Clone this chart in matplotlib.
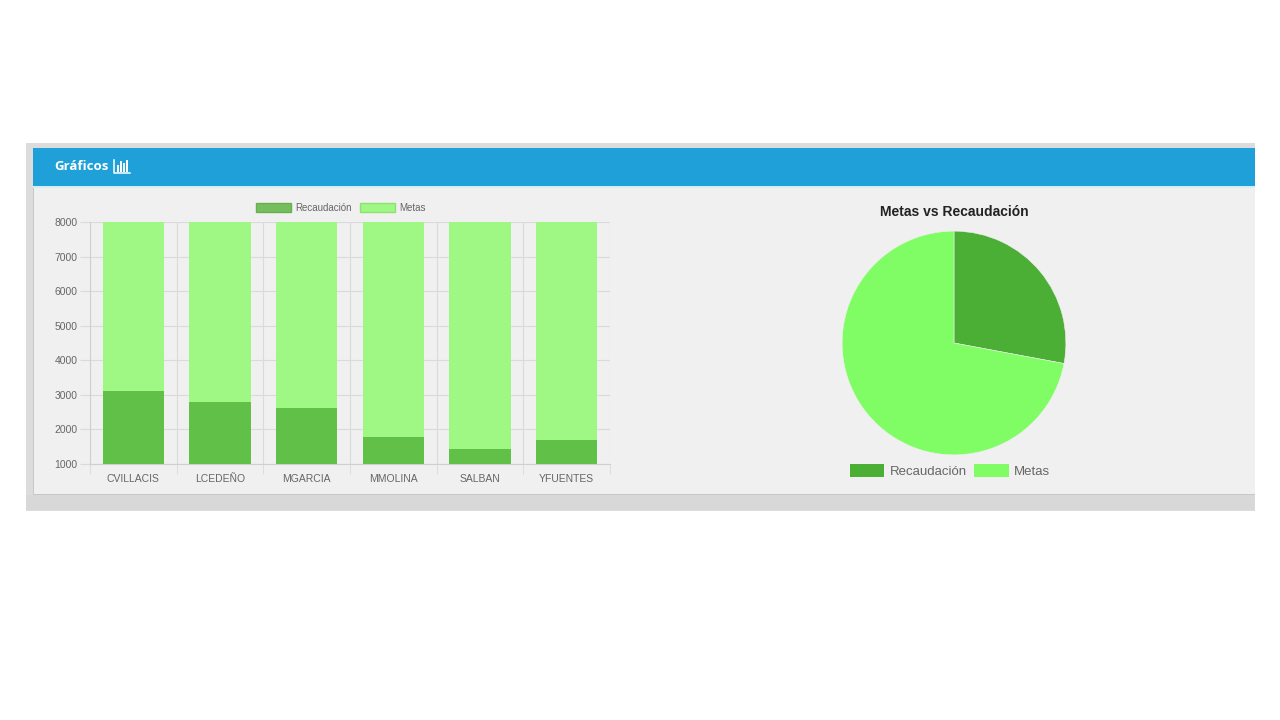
import matplotlib
matplotlib.use("Agg")
import matplotlib.pyplot as plt
from matplotlib.patches import Rectangle, Patch
from matplotlib.lines import Line2D
import numpy as np

# datos
vendedores = ["CVILLACIS", "LCEDEÑO", "MGARCIA", "MMOLINA", "SALBAN", "YFUENTES"]
recaudacion = [3100, 2780, 2620, 1790, 1420, 1700]
metas = [4900, 5220, 5380, 6210, 6580, 6300]  # tramo apilado sobre la recaudacion
y_ticks = [1000, 2000, 3000, 4000, 5000, 6000, 7000, 8000]

W, H = 1280, 720
plt.rcParams['font.family'] = ['Liberation Sans', 'DejaVu Sans']

fig = plt.figure(figsize=(12.8, 7.2), dpi=100)
fig.patch.set_facecolor("white")


def box(x, y, w, h):  # pixeles (desde arriba) -> fraccion de figura
    return [x / W, 1 - (y + h) / H, w / W, h / H]


def rect(x, y, w, h, color):
    b = box(x, y, w, h)
    fig.patches.append(Rectangle((b[0], b[1]), b[2], b[3], transform=fig.transFigure,
                                 facecolor=color, edgecolor="none", zorder=-10))


# marco del panel
rect(26, 143, 1229, 368, "#dcdcdc")
rect(33, 148, 1222, 347, "#c8c8c8")
rect(34, 149, 1221, 345, "#f0f0f0")
rect(33, 148, 1222, 38, "#1fa0d8")
rect(33, 186, 1222, 2, "#d4eef8")
rect(26, 495, 1229, 15, "#d8d8d8")

fig.text(54 / W, 1 - 167 / H, "Gráficos", color="white", fontsize=9.5, fontweight="bold",
         family=["Open Sans", "DejaVu Sans"], va="center")
# icono de barras
ic = "white"
fig.lines.append(Line2D([114 / W, 114 / W, 130 / W], [1 - 160 / H, 1 - 173 / H, 1 - 173 / H],
                        transform=fig.transFigure, color=ic, lw=1.1))
for xp, top in [(118, 166), (121, 162), (124, 164), (127, 161)]:
    fig.lines.append(Line2D([xp / W, xp / W], [1 - 171 / H, 1 - top / H],
                            transform=fig.transFigure, color=ic, lw=1.4))

# grafico de barras apiladas
ax = fig.add_axes(box(90, 222, 520, 242))
ax.set_facecolor("none")
x = np.arange(len(vendedores))
ax.bar(x, recaudacion, width=0.71, color="#60c048", bottom=0, zorder=3)
ax.bar(x, metas, width=0.71, bottom=recaudacion, color="#9ff883", zorder=3)
ax.set_xlim(-0.5, len(vendedores) - 0.5)
ax.set_ylim(1000, 8000)
ax.set_yticks(y_ticks)
ax.set_xticks(x)
ax.set_xticklabels(vendedores)
ax.set_xticks(np.arange(len(vendedores) + 1) - 0.5, minor=True)
ax.tick_params(axis="x", which="major", length=0, pad=7, labelsize=7.5, labelcolor="#666666")
ax.tick_params(axis="x", which="minor", length=7, color="#dadada")
ax.tick_params(axis="y", length=7, color="#dadada", labelsize=7.5, labelcolor="#666666", pad=2)
ax.grid(axis="y", color="#dadada", lw=0.8, zorder=0)
ax.grid(axis="x", which="minor", color="#dadada", lw=0.8, zorder=0)
for s in ["top", "right"]:
    ax.spines[s].set_visible(False)
for s in ["left", "bottom"]:
    ax.spines[s].set_color("#cfcfcf")

h_bar = [Patch(facecolor="#75be5d", edgecolor="#6aae52"), Patch(facecolor="#9ff883", edgecolor="#8fe073")]
fig.legend(h_bar, ["Recaudación", "Metas"], loc="center", bbox_to_anchor=(341 / W, 1 - 208 / H),
           ncol=2, frameon=False, fontsize=7, labelcolor="#666666", handlelength=3.6,
           handleheight=1.1, handletextpad=0.5, columnspacing=0.8)

# grafico circular
pie_vals = [sum(recaudacion), sum(metas)]
pax = fig.add_axes(box(841, 230, 226, 226))
pax.pie(pie_vals, colors=["#4caf35", "#80fd64"], startangle=90, counterclock=False,
        wedgeprops=dict(edgecolor="#f0f0f0", linewidth=0.4))
pax.set_xlim(-1.01, 1.01)
pax.set_ylim(-1.01, 1.01)
pax.set_aspect("equal")
fig.text(954 / W, 1 - 212 / H, "Metas vs Recaudación", ha="center", va="center",
         fontsize=10, fontweight="bold", color="#222222")
h_pie = [Patch(facecolor="#4caf35"), Patch(facecolor="#80fd64")]
fig.legend(h_pie, ["Recaudación", "Metas"], loc="center", bbox_to_anchor=(950 / W, 1 - 471 / H),
           ncol=2, frameon=False, fontsize=9.5, labelcolor="#666666", handlelength=2.6,
           handleheight=1.1, handletextpad=0.4, columnspacing=0.6)

fig.savefig("out.png", dpi=100)
